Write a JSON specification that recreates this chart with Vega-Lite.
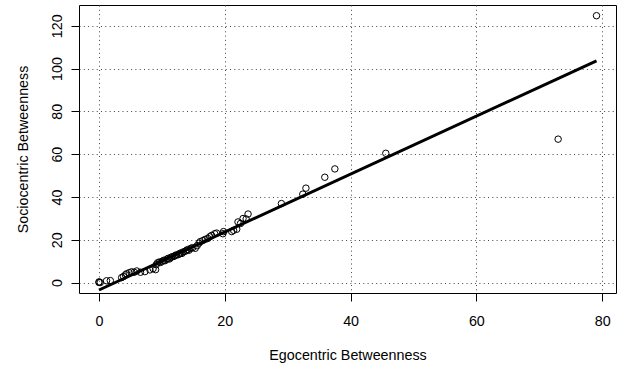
{
  "$schema": "https://vega.github.io/schema/vega-lite/v6.json",
  "width": 537,
  "height": 288,
  "autosize": {"type": "none"},
  "padding": {"left": 79, "top": 5, "right": 7, "bottom": 73},
  "background": "white",
  "config": {
    "font": "Liberation Sans",
    "view": {"stroke": "black", "strokeWidth": 1},
    "axis": {
      "labelFont": "Liberation Sans",
      "titleFont": "Liberation Sans",
      "labelFontSize": 14.3,
      "titleFontSize": 14.3,
      "titleFontWeight": "normal",
      "labelColor": "black",
      "titleColor": "black",
      "tickColor": "black",
      "tickSize": 8,
      "domain": false,
      "grid": true,
      "gridColor": "#444444",
      "gridDash": [1, 3.3],
      "gridWidth": 1
    }
  },
  "datasets": {
    "pts": [
      {"ego": 0, "socio": 0}, {"ego": 0, "socio": 0.3}, {"ego": 0.2, "socio": 0},
      {"ego": 1.2, "socio": 0.8}, {"ego": 1.8, "socio": 0.9}, {"ego": 3.6, "socio": 2.3},
      {"ego": 3.9, "socio": 2.8}, {"ego": 4.2, "socio": 3.6}, {"ego": 4.4, "socio": 4.1},
      {"ego": 4.8, "socio": 4.6}, {"ego": 5.2, "socio": 5.0}, {"ego": 5.6, "socio": 4.8},
      {"ego": 6.0, "socio": 5.4}, {"ego": 6.6, "socio": 4.8}, {"ego": 7.3, "socio": 5.1},
      {"ego": 8.1, "socio": 5.9}, {"ego": 8.6, "socio": 6.5}, {"ego": 9.0, "socio": 6.0},
      {"ego": 9.1, "socio": 8.3}, {"ego": 9.3, "socio": 9.2}, {"ego": 9.6, "socio": 9.6},
      {"ego": 9.8, "socio": 9.4}, {"ego": 10.1, "socio": 10.0}, {"ego": 10.3, "socio": 10.4},
      {"ego": 10.5, "socio": 10.2}, {"ego": 10.8, "socio": 10.9}, {"ego": 11.0, "socio": 11.3},
      {"ego": 11.2, "socio": 11.0}, {"ego": 11.4, "socio": 11.7}, {"ego": 11.6, "socio": 12.0},
      {"ego": 11.9, "socio": 12.2}, {"ego": 12.1, "socio": 12.6}, {"ego": 12.3, "socio": 12.9},
      {"ego": 12.6, "socio": 13.0}, {"ego": 12.8, "socio": 13.5}, {"ego": 13.0, "socio": 13.8},
      {"ego": 13.2, "socio": 13.6}, {"ego": 13.4, "socio": 14.3}, {"ego": 13.7, "socio": 14.6},
      {"ego": 13.9, "socio": 15.0}, {"ego": 14.1, "socio": 15.4}, {"ego": 14.3, "socio": 15.1},
      {"ego": 14.6, "socio": 16.0}, {"ego": 14.9, "socio": 16.3}, {"ego": 15.3, "socio": 16.0},
      {"ego": 15.6, "socio": 17.2}, {"ego": 15.9, "socio": 18.4}, {"ego": 16.1, "socio": 19.1},
      {"ego": 16.5, "socio": 19.6}, {"ego": 16.9, "socio": 20.2}, {"ego": 17.3, "socio": 20.6},
      {"ego": 17.6, "socio": 21.4}, {"ego": 17.9, "socio": 22.0}, {"ego": 18.4, "socio": 22.8},
      {"ego": 18.7, "socio": 23.1}, {"ego": 19.7, "socio": 22.8}, {"ego": 19.8, "socio": 23.8},
      {"ego": 21.1, "socio": 23.8}, {"ego": 21.4, "socio": 24.4}, {"ego": 21.9, "socio": 24.9},
      {"ego": 22.1, "socio": 28.3}, {"ego": 22.5, "socio": 27.6}, {"ego": 22.9, "socio": 29.9},
      {"ego": 23.4, "socio": 29.7}, {"ego": 23.7, "socio": 32.0}, {"ego": 29.0, "socio": 36.9},
      {"ego": 32.4, "socio": 41.3}, {"ego": 32.9, "socio": 44.1}, {"ego": 35.9, "socio": 49.2},
      {"ego": 37.5, "socio": 53.1}, {"ego": 45.6, "socio": 60.4}, {"ego": 73.0, "socio": 67.0},
      {"ego": 79.1, "socio": 124.7}
    ],
    "fit": [
      {"ego": 0, "socio": -3.5},
      {"ego": 79.1, "socio": 103.6}
    ]
  },
  "layer": [
    {
      "data": {"name": "pts"},
      "mark": {"type": "point", "shape": "circle", "filled": false, "stroke": "black", "strokeWidth": 1, "size": 42, "opacity": 1},
      "encoding": {
        "x": {
          "field": "ego", "type": "quantitative",
          "scale": {"domain": [-3.18, 82.2], "nice": false, "zero": false},
          "axis": {
            "title": "Egocentric Betweenness",
            "values": [0, 20, 40, 60, 80],
            "labelBaseline": "alphabetic",
            "labelPadding": 24,
            "labelAlign": "center",
            "titleBaseline": "alphabetic",
            "titleY": 66
          }
        },
        "y": {
          "field": "socio", "type": "quantitative",
          "scale": {"domain": [-4.9, 129.7], "nice": false, "zero": false},
          "axis": {
            "title": "Sociocentric Betweenness",
            "values": [0, 20, 40, 60, 80, 100, 120],
            "labelAngle": 270,
            "labelAlign": "center",
            "labelBaseline": "alphabetic",
            "labelPadding": 10,
            "titleAngle": 270,
            "titleAlign": "center",
            "titleBaseline": "alphabetic",
            "titleX": -52,
            "titleY": 144
          }
        }
      }
    },
    {
      "data": {"name": "fit"},
      "mark": {"type": "line", "color": "black", "strokeWidth": 3},
      "encoding": {
        "x": {"field": "ego", "type": "quantitative"},
        "y": {"field": "socio", "type": "quantitative"}
      }
    }
  ]
}
